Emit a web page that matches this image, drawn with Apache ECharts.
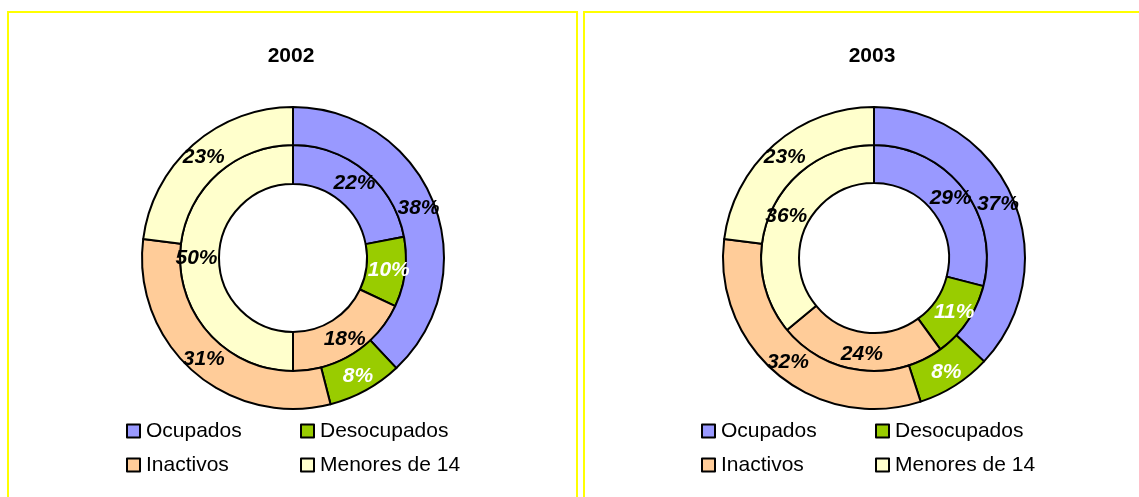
<!DOCTYPE html>
<html>
<head>
<meta charset="utf-8">
<script src="https://cdn.jsdelivr.net/npm/echarts@6/dist/echarts.min.js"></script>
<style>
html,body{margin:0;padding:0;background:#fff;}
#c{width:1139px;height:497px;}
</style>
</head>
<body>
<div id="c"></div>
<script>
var categories = ['Ocupados', 'Desocupados', 'Inactivos', 'Menores de 14'];
var colors = ['#9999FF', '#99CC00', '#FFCC99', '#FFFFCC'];
var labelColors = ['#000000', '#FFFFFF', '#000000', '#000000'];
var titles = ['2002', '2003'];
var inner2002 = [22, 10, 18, 50];
var outer2002 = [38, 8, 31, 23];
var inner2003 = [29, 11, 24, 36];
var outer2003 = [37, 8, 32, 23];

var FONT = "'Liberation Sans', Arial, sans-serif";

function mkData(vals) {
  return vals.map(function (v, i) {
    return {
      name: categories[i],
      value: v,
      itemStyle: { color: colors[i] },
      label: { color: labelColors[i] }
    };
  });
}

function mkSeries(vals, center, radius) {
  return {
    type: 'pie',
    center: center,
    radius: radius,
    startAngle: 90,
    clockwise: true,
    avoidLabelOverlap: false,
    silent: true,
    animation: false,
    itemStyle: { borderColor: '#000', borderWidth: 2 },
    label: {
      show: true,
      position: 'inside',
      formatter: '{c}%',
      fontFamily: FONT,
      fontSize: 21,
      fontWeight: 'bold',
      fontStyle: 'italic'
    },
    labelLine: { show: false },
    emphasis: { disabled: true },
    data: mkData(vals)
  };
}

var legendPos = [
  [126, 0], [300, 1], [126, 2], [300, 3],
  [701, 0], [875, 1], [701, 2], [875, 3]
];
var legends = legendPos.map(function (p) {
  var row = (p[1] < 2) ? 0 : 1;
  return {
    data: [categories[p[1]]],
    left: p[0],
    top: row === 0 ? 420 : 454,
    padding: 0,
    icon: 'rect',
    itemWidth: 13,
    itemHeight: 13,
    itemGap: 0,
    selectedMode: false,
    itemStyle: { borderColor: '#000', borderWidth: 2 },
    textStyle: { fontFamily: FONT, fontSize: 21, color: '#000', lineHeight: 22, padding: [0, 0, 0, 1] }
  };
});

var option = {
  backgroundColor: '#fff',
  animation: false,
  title: [
    { text: titles[0], left: 291, top: 46, padding: 0, textAlign: 'center',
      textStyle: { fontFamily: FONT, fontSize: 21, fontWeight: 'bold', color: '#000' } },
    { text: titles[1], left: 872, top: 46, padding: 0, textAlign: 'center',
      textStyle: { fontFamily: FONT, fontSize: 21, fontWeight: 'bold', color: '#000' } }
  ],
  legend: legends,
  graphic: [
    { type: 'rect', shape: { x: 8, y: 12, width: 569, height: 600 },
      style: { fill: 'none', stroke: '#FFFF00', lineWidth: 2 }, silent: true, z: -1 },
    { type: 'rect', shape: { x: 584, y: 12, width: 600, height: 600 },
      style: { fill: 'none', stroke: '#FFFF00', lineWidth: 2 }, silent: true, z: -1 }
  ],
  series: [
    mkSeries(inner2002, [293, 258], [74, 113]),
    mkSeries(outer2002, [293, 258], [113, 151]),
    mkSeries(inner2003, [874, 258], [75, 113]),
    mkSeries(outer2003, [874, 258], [113, 151])
  ]
};

var chart = echarts.init(document.getElementById('c'), null, { renderer: 'canvas' });
chart.setOption(option);
</script>
</body>
</html>
